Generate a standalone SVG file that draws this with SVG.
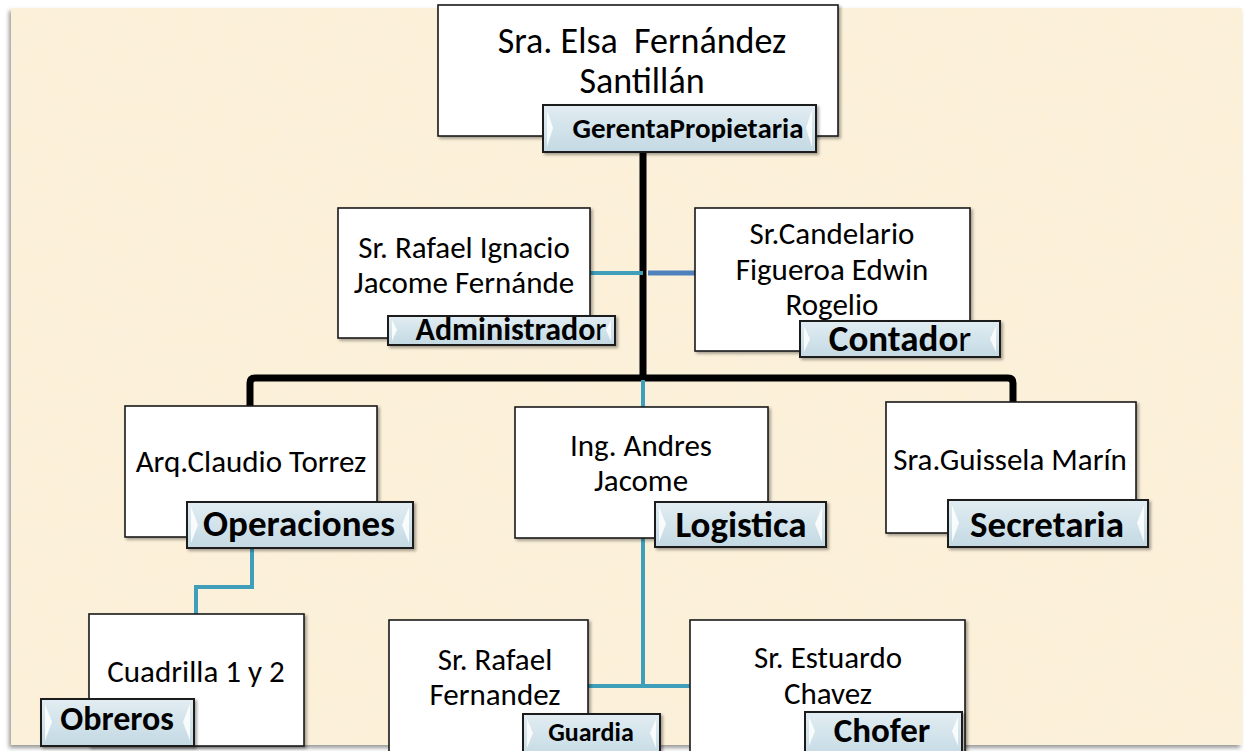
<svg xmlns="http://www.w3.org/2000/svg" width="1248" height="751" viewBox="0 0 1248 751">
<style>
.box{fill:#ffffff;stroke:#1a1a1a;stroke-width:1.6;filter:url(#sh)}
.lab{fill:url(#lg);stroke:#1a1a1a;stroke-width:2;filter:url(#sh)}
.bev{fill:#ffffff;opacity:0.85}
.t{font-family:Carlito,Lato,"Open Sans",sans-serif;fill:#000;text-anchor:middle;font-size:31px}
.b{font-family:Carlito,Lato,"Open Sans",sans-serif;font-weight:bold;fill:#000;text-anchor:middle}
.blk{fill:none;stroke:#000;stroke-width:7;stroke-linejoin:round}
.teal{fill:none;stroke:#3f9fbb;stroke-width:4}
</style>
<defs>
<linearGradient id="lg" x1="0" y1="0" x2="0" y2="1">
<stop offset="0" stop-color="#e2edf2"/>
<stop offset="0.5" stop-color="#d2e3eb"/>
<stop offset="1" stop-color="#c4d9e3"/>
</linearGradient>
<filter id="sh" x="-10%" y="-10%" width="130%" height="130%">
<feDropShadow dx="2" dy="2" stdDeviation="1.5" flood-color="#000" flood-opacity="0.35"/>
</filter>
<filter id="pshadow" x="-2%" y="-2%" width="104%" height="104%">
<feDropShadow dx="-2" dy="3" stdDeviation="2" flood-color="#555" flood-opacity="0.6"/>
</filter>
<filter id="tex" x="0" y="0" width="100%" height="100%">
<feTurbulence type="fractalNoise" baseFrequency="0.03 0.04" numOctaves="2" seed="7" result="n"/>
<feColorMatrix in="n" type="matrix" values="0 0 0 0 0.95  0 0 0 0 0.87  0 0 0 0 0.72  1.2 0 0 0 -0.4" result="c"/>
<feComposite in="c" in2="SourceGraphic" operator="in"/>
</filter>
</defs>
<rect x="0" y="0" width="1248" height="751" fill="#ffffff"/>
<g id="page">
<rect x="11" y="8" width="1231" height="737" fill="#fcf0d8" filter="url(#pshadow)"/>
<rect x="11" y="8" width="1231" height="737" fill="#fcf0d8" filter="url(#tex)"/>
</g>
<g id="connectors">
<path class="blk" d="M643,150 V378"/>
<path class="blk" d="M250,406 V383 Q250,378 255,378 H1008 Q1013,378 1013,383 V403"/>
<path class="teal" d="M643,380 V408"/>
<path class="teal" d="M643,538 V686"/>
<path class="teal" d="M588,686 H690"/>
<path class="teal" d="M590,273 H643"/>
<path fill="none" stroke="#4f81bd" stroke-width="5" d="M648,273 H695"/>
<path class="teal" d="M252,548 V587 H196 V614"/>
</g>
<g id="n-gerente">
<rect class="box" x="438" y="5" width="400" height="131"/>
<text class="t" x="642" y="53" style="font-size:36px" xml:space="preserve">Sra. Elsa  Fernández</text>
<text class="t" x="642" y="93" style="font-size:36px">Santillán</text>
<rect class="lab" x="543" y="105" width="273" height="47"/>
<polygon class="bev" points="547,110 553,128 547,147"/>
<polygon class="bev" points="812,110 806,128 812,147"/>
<text class="b" x="688" y="138" font-size="29">GerentaPropietaria</text>
</g>
<g id="n-admin">
<rect class="box" x="338" y="208" width="252" height="130"/>
<text class="t" x="464" y="258">Sr. Rafael Ignacio</text>
<text class="t" x="464" y="293">Jacome Fernánde</text>
<rect class="lab" x="388" y="316" width="227" height="29"/>
<polygon class="bev" points="392,320 397,330 392,341"/>
<polygon class="bev" points="611,320 606,330 611,341"/>
<text class="b" x="511" y="340" font-size="32">Administrado<tspan font-weight="normal">r</tspan></text>
</g>
<g id="n-contador">
<rect class="box" x="695" y="208" width="275" height="143"/>
<text class="t" x="832" y="244">Sr.Candelario</text>
<text class="t" x="832" y="280">Figueroa Edwin</text>
<text class="t" x="832" y="315">Rogelio</text>
<rect class="lab" x="800" y="321" width="200" height="36"/>
<polygon class="bev" points="804,326 810,339 804,352"/>
<polygon class="bev" points="996,326 990,339 996,352"/>
<text class="b" x="900" y="351" font-size="37">Contado<tspan font-weight="normal">r</tspan></text>
</g>
<g id="n-operaciones">
<rect class="box" x="125" y="406" width="252" height="131"/>
<text class="t" x="251" y="472">Arq.Claudio Torrez</text>
<rect class="lab" x="187" y="502" width="226" height="46"/>
<polygon class="bev" points="191,507 198,525 191,543"/>
<polygon class="bev" points="409,507 402,525 409,543"/>
<text class="b" x="299" y="536" font-size="37">Operaciones</text>
</g>
<g id="n-logistica">
<rect class="box" x="515" y="407" width="253" height="131"/>
<text class="t" x="641" y="456">Ing. Andres</text>
<text class="t" x="641" y="491">Jacome</text>
<rect class="lab" x="655" y="502" width="171" height="45"/>
<polygon class="bev" points="659,507 666,524 659,542"/>
<polygon class="bev" points="822,507 815,524 822,542"/>
<text class="b" x="741" y="537" font-size="37">Logistica</text>
</g>
<g id="n-secretaria">
<rect class="box" x="886" y="402" width="250" height="131"/>
<text class="t" x="1010" y="470">Sra.Guissela Marín</text>
<rect class="lab" x="948" y="500" width="200" height="47"/>
<polygon class="bev" points="952,505 959,523 952,542"/>
<polygon class="bev" points="1144,505 1137,523 1144,542"/>
<text class="b" x="1047" y="537" font-size="37">Secretaria</text>
</g>
<g id="n-obreros">
<rect class="box" x="89" y="614" width="215" height="132"/>
<text class="t" x="196" y="682">Cuadrilla 1 y 2</text>
<rect class="lab" x="41" y="699" width="153" height="47"/>
<polygon class="bev" points="45,704 52,722 45,741"/>
<polygon class="bev" points="190,704 183,722 190,741"/>
<text class="b" x="117" y="730" font-size="34">Obreros</text>
</g>
<g id="n-guardia">
<rect class="box" x="389" y="620" width="199" height="140"/>
<text class="t" x="495" y="670">Sr. Rafael</text>
<text class="t" x="495" y="705">Fernandez</text>
<rect class="lab" x="523" y="714" width="137" height="46"/>
<polygon class="bev" points="527,719 533,733 527,748"/>
<polygon class="bev" points="656,719 650,733 656,748"/>
<text class="b" x="591" y="741" font-size="26">Guardia</text>
</g>
<g id="n-chofer">
<rect class="box" x="690" y="620" width="275" height="140"/>
<text class="t" x="828" y="668">Sr. Estuardo</text>
<text class="t" x="828" y="704">Chavez</text>
<rect class="lab" x="805" y="712" width="157" height="48"/>
<polygon class="bev" points="809,717 815,731 809,746"/>
<polygon class="bev" points="958,717 952,731 958,746"/>
<text class="b" x="882" y="742" font-size="35">Chofer</text>
</g>
</svg>
